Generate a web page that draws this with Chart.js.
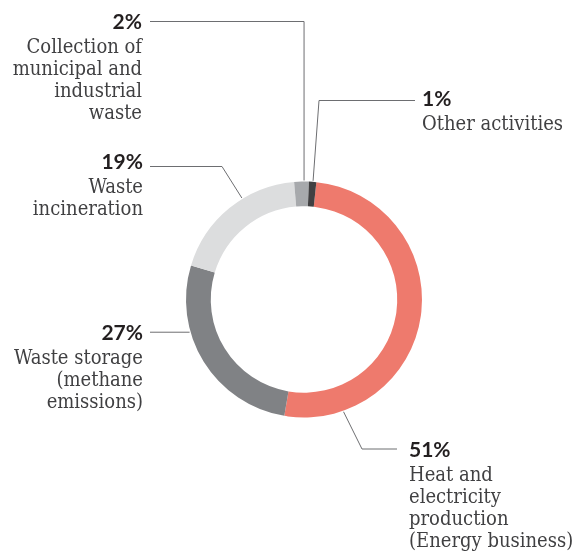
<!DOCTYPE html>
<html>
<head>
<meta charset="utf-8">
<script src="https://cdn.jsdelivr.net/npm/chart.js@4/dist/chart.umd.min.js"></script>
<style>
  html, body { margin: 0; background: #ffffff; }
  canvas { display: block; }
</style>
</head>
<body>
<canvas id="chart" width="576" height="552"></canvas>
<script>
// Emission sources by activity, share of total (%)
const categories = [
  'Heat and electricity production (Energy business)',
  'Waste storage (methane emissions)',
  'Waste incineration',
  'Collection of municipal and industrial waste',
  'Other activities'
];
const shares = [51, 27, 19, 2, 1];
const labelLines = [
  ['Heat and', 'electricity', 'production', '(Energy business)'],
  ['Waste storage', '(methane', 'emissions)'],
  ['Waste', 'incineration'],
  ['Collection of', 'municipal and', 'industrial', 'waste'],
  ['Other activities']
];

const sliceColors = ['#ee7a6d', '#808285', '#dcddde', '#a7a9ac', '#414042'];

// Callout layout: where along its slice the leader leaves the ring,
// the leader's bend points (null = keep the ring point's coordinate),
// and the text block anchor (baseline of the percentage).
const callouts = [
  { frac: 0.842, path: [[362, 449], [397, 449]], x: 409, y: 456.5, align: 'left' },
  { frac: 0.663, path: [[150, null]], x: 143, y: 340, align: 'right' },
  { frac: 0.61,  path: [[222, 166.5], [150, 166.5]], x: 143, y: 169, align: 'right' },
  { frac: 0.67,  path: [[null, 21.5], [150, 21.5]], x: 142, y: 28.5, align: 'right' },
  { frac: 0.55,  path: [[319, 100.5], [415, 100.5]], x: 422, y: 105.5, align: 'left' }
];

const calloutPlugin = {
  id: 'callouts',
  afterDatasetsDraw(chart) {
    const ctx = chart.ctx;
    const arcs = chart.getDatasetMeta(0).data;
    ctx.save();
    callouts.forEach((c, i) => {
      const arc = arcs[i];
      const a = arc.startAngle + c.frac * (arc.endAngle - arc.startAngle);
      const r = arc.outerRadius + 1;
      const px = arc.x + r * Math.cos(a);
      const py = arc.y + r * Math.sin(a);
      ctx.beginPath();
      ctx.strokeStyle = '#6d6e71';
      ctx.lineWidth = 1;
      ctx.moveTo(px, py);
      c.path.forEach(([x, y]) => {
        ctx.lineTo(x === null ? px : x, y === null ? py : y);
      });
      ctx.stroke();

      ctx.textAlign = c.align;
      ctx.textBaseline = 'alphabetic';
      ctx.fillStyle = '#231f20';
      ctx.font = 'bold 21px Lato, "Open Sans", sans-serif';
      ctx.fillText(shares[i] + '%', c.x, c.y);

      ctx.fillStyle = '#404042';
      ctx.font = '20px "DejaVu Serif Condensed", "DejaVu Serif", serif';
      labelLines[i].forEach((line, k) => {
        ctx.fillText(line, c.x, c.y + 24 + k * 22);
      });
    });
    ctx.restore();
  }
};

new Chart(document.getElementById('chart'), {
  type: 'doughnut',
  data: {
    labels: categories,
    datasets: [{
      data: shares,
      backgroundColor: sliceColors,
      borderWidth: 0
    }]
  },
  options: {
    responsive: false,
    animation: false,
    rotation: 6,
    cutout: '79%',
    layout: { padding: { left: 186, right: 154, top: 181, bottom: 134 } },
    plugins: {
      legend: { display: false },
      tooltip: { enabled: false }
    }
  },
  plugins: [calloutPlugin]
});
</script>
</body>
</html>
